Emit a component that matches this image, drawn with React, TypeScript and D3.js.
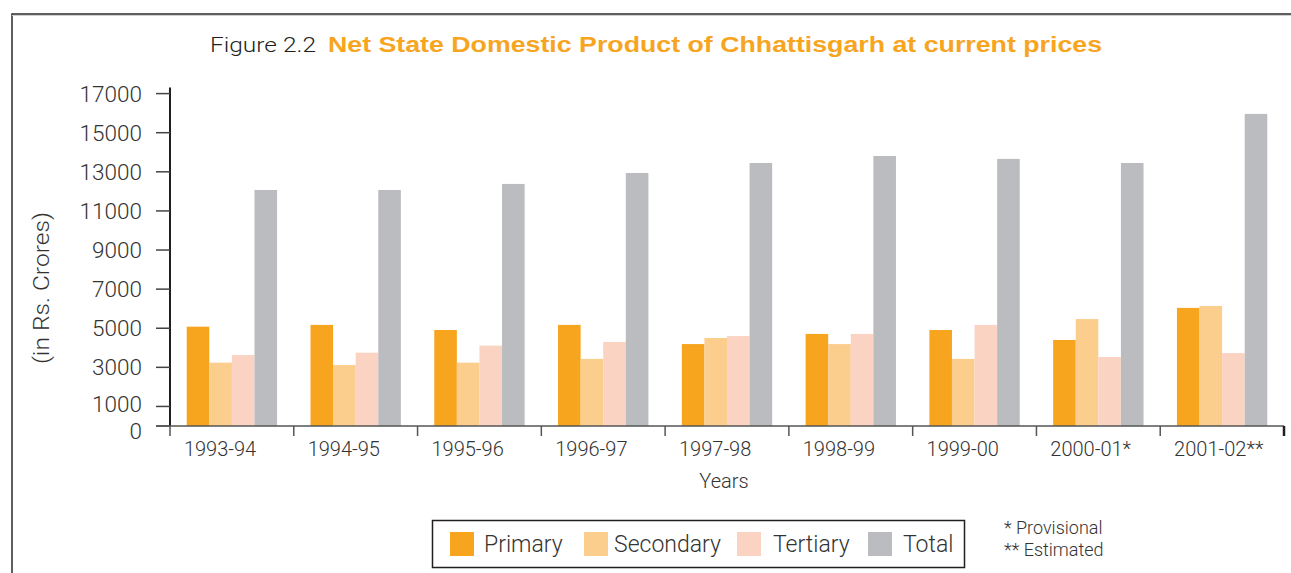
import React from "react";
import * as d3 from "d3";

const categories = ["1993-94", "1994-95", "1995-96", "1996-97", "1997-98", "1998-99", "1999-00", "2000-01*", "2001-02**"];
const seriesNames = ["Primary", "Secondary", "Tertiary", "Total"];
const primary = [5080, 5170, 4910, 5170, 4190, 4710, 4910, 4400, 6040];
const secondary = [3240, 3120, 3240, 3430, 4500, 4190, 3430, 5470, 6140];
const tertiary = [3630, 3750, 4110, 4300, 4600, 4710, 5170, 3530, 3730];
const total = [12070, 12070, 12380, 12940, 13450, 13810, 13660, 13450, 15960];
const yTicks = [0, 1000, 3000, 5000, 7000, 9000, 11000, 13000, 15000, 17000];
const colors = ["#F7A51E", "#FBCE8E", "#FBD3C3", "#BBBCC0"];

const W = 1291, H = 573;
const FONT = "Roboto, 'Liberation Sans', Arial, sans-serif";
const TXT = "#333333";

export default function App() {
  const values = [primary, secondary, tertiary, total];
  const y = d3.scaleLinear().domain([0, 17000]).range([426, 93.6]);
  const x0 = d3.scaleBand<string>().domain(categories).range([170, 1284]).padding(0);
  const bw = x0.bandwidth();
  const pad = bw * 0.135;
  const x1 = d3.scaleBand<string>().domain(seriesNames).range([pad, bw - pad]).padding(0);

  const legendItems = [
    { name: "Primary", sx: 450, tx: 484 },
    { name: "Secondary", sx: 584, tx: 614 },
    { name: "Tertiary", sx: 737, tx: 773 },
    { name: "Total", sx: 868, tx: 903 },
  ];

  const labelShift = (t: number) => (t === 0 ? 5 : t === 1000 ? -3 : 0);

  return (
    <svg width={W} height={H} style={{ position: "absolute", left: 0, top: 0, background: "#fff" }} fontFamily={FONT}>
      {/* frame */}
      <rect x={12} y={14} width={W + 20} height={H + 20} fill="none" stroke="#2a2a2a" strokeWidth={1.5} />
      <line x1={12} x2={W} y1={15.5} y2={15.5} stroke="#cfcfcf" strokeWidth={1} />

      {/* title */}
      <text x={210} y={52} fontSize={21} fontWeight={300} fill="#231F20" textLength={106} lengthAdjust="spacingAndGlyphs">Figure 2.2</text>
      <text x={328} y={52} fontSize={22} fontWeight={700} fill="#F7A51E" fontFamily="'Liberation Sans', Arial, sans-serif" textLength={774} lengthAdjust="spacingAndGlyphs">
        Net State Domestic Product of Chhattisgarh at current prices
      </text>

      {/* bars */}
      {categories.map((c, i) => (
        <g key={c} transform={`translate(${x0(c)},0)`}>
          {seriesNames.map((s, j) => (
            <rect key={s} x={x1(s)} y={y(values[j][i])} width={x1.bandwidth()} height={y(0) - y(values[j][i])} fill={colors[j]} />
          ))}
        </g>
      ))}

      {/* y axis */}
      <line x1={170} x2={170} y1={y.range()[1] - 6} y2={y(0)} stroke="#231F20" strokeWidth={2} />
      {yTicks.map((t) => (
        <g key={t}>
          <line x1={156} x2={170} y1={y(t)} y2={y(t)} stroke="#444" strokeWidth={1.5} />
          <text x={142} y={y(t) + labelShift(t)} dy="0.36em" textAnchor="end" fontSize={22.5} fontWeight={300} fill={TXT}>{t}</text>
        </g>
      ))}

      {/* x axis */}
      <line x1={156} x2={1284} y1={y(0)} y2={y(0)} stroke="#555" strokeWidth={1.5} />
      {[...categories.map((c) => x0(c) as number), 1284].map((xv, i) => (
        <line key={i} x1={xv} x2={xv} y1={y(0)} y2={y(0) + 10} stroke={i === categories.length ? "#231F20" : "#555"} strokeWidth={i === categories.length ? 2.5 : 1.5} />
      ))}
      {categories.map((c) => (
        <text key={c} x={(x0(c) as number) + bw / 2 - 48} y={456} fontSize={20} fontWeight={300} fill={TXT}>{c}</text>
      ))}
      <text x={724} y={488} textAnchor="middle" fontSize={20} fontWeight={300} fill={TXT}>Years</text>
      <text transform="translate(49,288) rotate(-90)" textAnchor="middle" fontSize={22} fontWeight={300} fill={TXT} textLength={152} lengthAdjust="spacingAndGlyphs">(in Rs. Crores)</text>

      {/* legend */}
      <rect x={432.5} y={520.5} width={532} height={47} fill="none" stroke="#231F20" strokeWidth={1.5} />
      {legendItems.map((l, i) => (
        <g key={l.name}>
          <rect x={l.sx} y={532} width={24} height={24} fill={colors[i]} />
          <text x={l.tx} y={552} fontSize={23} fontWeight={300} fill={TXT}>{l.name}</text>
        </g>
      ))}
      <text x={1004} y={534} fontSize={18} fontWeight={300} fill={TXT}>* Provisional</text>
      <text x={1004} y={556} fontSize={18} fontWeight={300} fill={TXT}>** Estimated</text>
    </svg>
  );
}
